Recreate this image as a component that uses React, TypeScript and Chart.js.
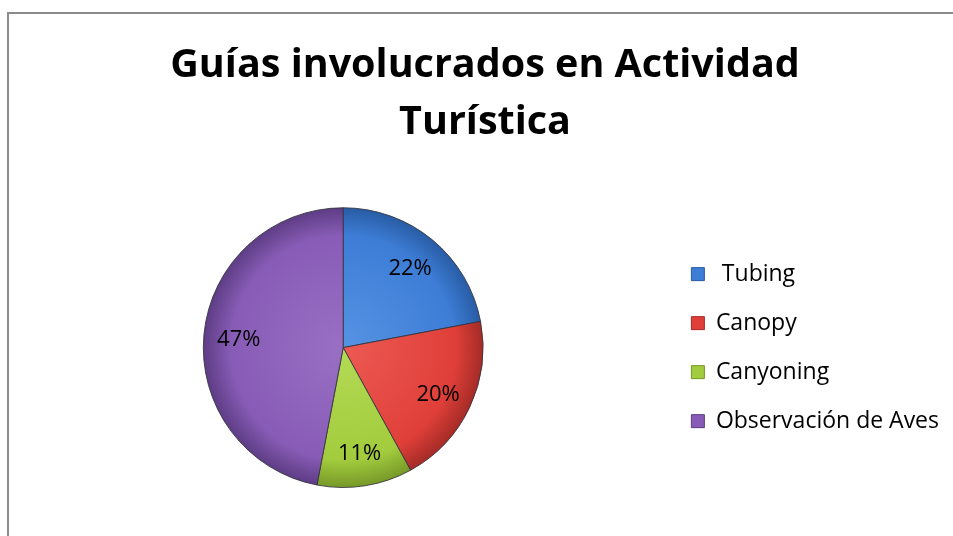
import React, { useEffect, useRef } from "react";
import { Chart, registerables } from "chart.js";

Chart.register(...registerables);

const titleLines = ["Guías involucrados en Actividad", "Turística"];
const categories = [" Tubing", "Canopy", "Canyoning", "Observación de Aves"];
const percentages = [22, 20, 11, 47];
const baseColors = ["#3d7dd6", "#e03f39", "#a2cc3d", "#885cb6"];
const lightColors = ["#5693e3", "#ec5a53", "#b4da55", "#996fc4"];
const edgeColors = ["#285ca4", "#a42b26", "#769828", "#5d3c84"];

const FONT = "'Open Sans', 'Noto Sans', sans-serif";

const labelPlugin = {
  id: "sliceLabels",
  afterDatasetsDraw(chart: any) {
    const ctx = chart.ctx;
    const meta = chart.getDatasetMeta(0);
    ctx.save();
    ctx.font = `22px ${FONT}`;
    ctx.fillStyle = "#000";
    ctx.textAlign = "center";
    ctx.textBaseline = "middle";
    meta.data.forEach((arc: any, i: number) => {
      const { x, y, startAngle, endAngle, outerRadius } = arc.getProps(
        ["x", "y", "startAngle", "endAngle", "outerRadius"],
        true
      );
      const mid = (startAngle + endAngle) / 2;
      const r = outerRadius * 0.75;
      ctx.fillText(percentages[i] + "%", x + Math.cos(mid) * r, y + Math.sin(mid) * r + 2);
    });
    ctx.restore();
  },
};

export default function App() {
  const ref = useRef<HTMLCanvasElement | null>(null);
  useEffect(() => {
    if (!ref.current) return;
    const chart = new Chart(ref.current, {
      type: "pie",
      data: {
        labels: categories,
        datasets: [
          {
            data: percentages,
            backgroundColor: (c: any) => {
              const area = c.chart.chartArea;
              const i = c.dataIndex;
              if (!area || i === undefined) return baseColors[i ?? 0];
              const cx = (area.left + area.right) / 2;
              const cy = (area.top + area.bottom) / 2;
              const r = Math.min(area.right - area.left, area.bottom - area.top) / 2;
              const g = c.chart.ctx.createRadialGradient(cx, cy, 0, cx, cy, r);
              g.addColorStop(0, lightColors[i]);
              g.addColorStop(0.8, baseColors[i]);
              g.addColorStop(1, edgeColors[i]);
              return g;
            },
            borderColor: "rgba(50,50,60,0.85)",
            borderWidth: 1,
            hoverOffset: 0,
          },
        ],
      },
      options: {
        responsive: false,
        animation: false,
        events: [],
        layout: { padding: { left: 13, right: 4, top: 0, bottom: 48 } },
        plugins: {
          title: {
            display: true,
            text: titleLines,
            color: "#000",
            font: { family: FONT, size: 39.5, weight: "bold", lineHeight: 1.44 },
            padding: { top: 24.5, bottom: 56 },
          },
          legend: {
            position: "right",
            fullSize: false,
            labels: {
              color: "#000",
              font: { family: FONT, size: 23 },
              boxWidth: 13,
              boxHeight: 13,
              padding: 26,
              generateLabels: () =>
                categories.map((t, i) => ({
                  text: t,
                  fillStyle: baseColors[i],
                  strokeStyle: edgeColors[i],
                  lineWidth: 1,
                  hidden: false,
                  index: i,
                  datasetIndex: 0,
                })),
            },
          },
          tooltip: { enabled: false },
        },
      },
      plugins: [labelPlugin],
    });
    return () => chart.destroy();
  }, []);
  return (
    <div style={{ position: "fixed", left: 0, top: 0, width: 953, height: 536, overflow: "hidden", background: "#fff" }}>
      <div
        style={{
          position: "absolute",
          left: 7,
          top: 12,
          width: 1000,
          height: 600,
          borderTop: "2px solid #8c8c8c",
          borderLeft: "2px solid #8c8c8c",
        }}
      />
      <canvas ref={ref} width={945} height={523} style={{ position: "absolute", left: 8, top: 13 }} />
    </div>
  );
}
